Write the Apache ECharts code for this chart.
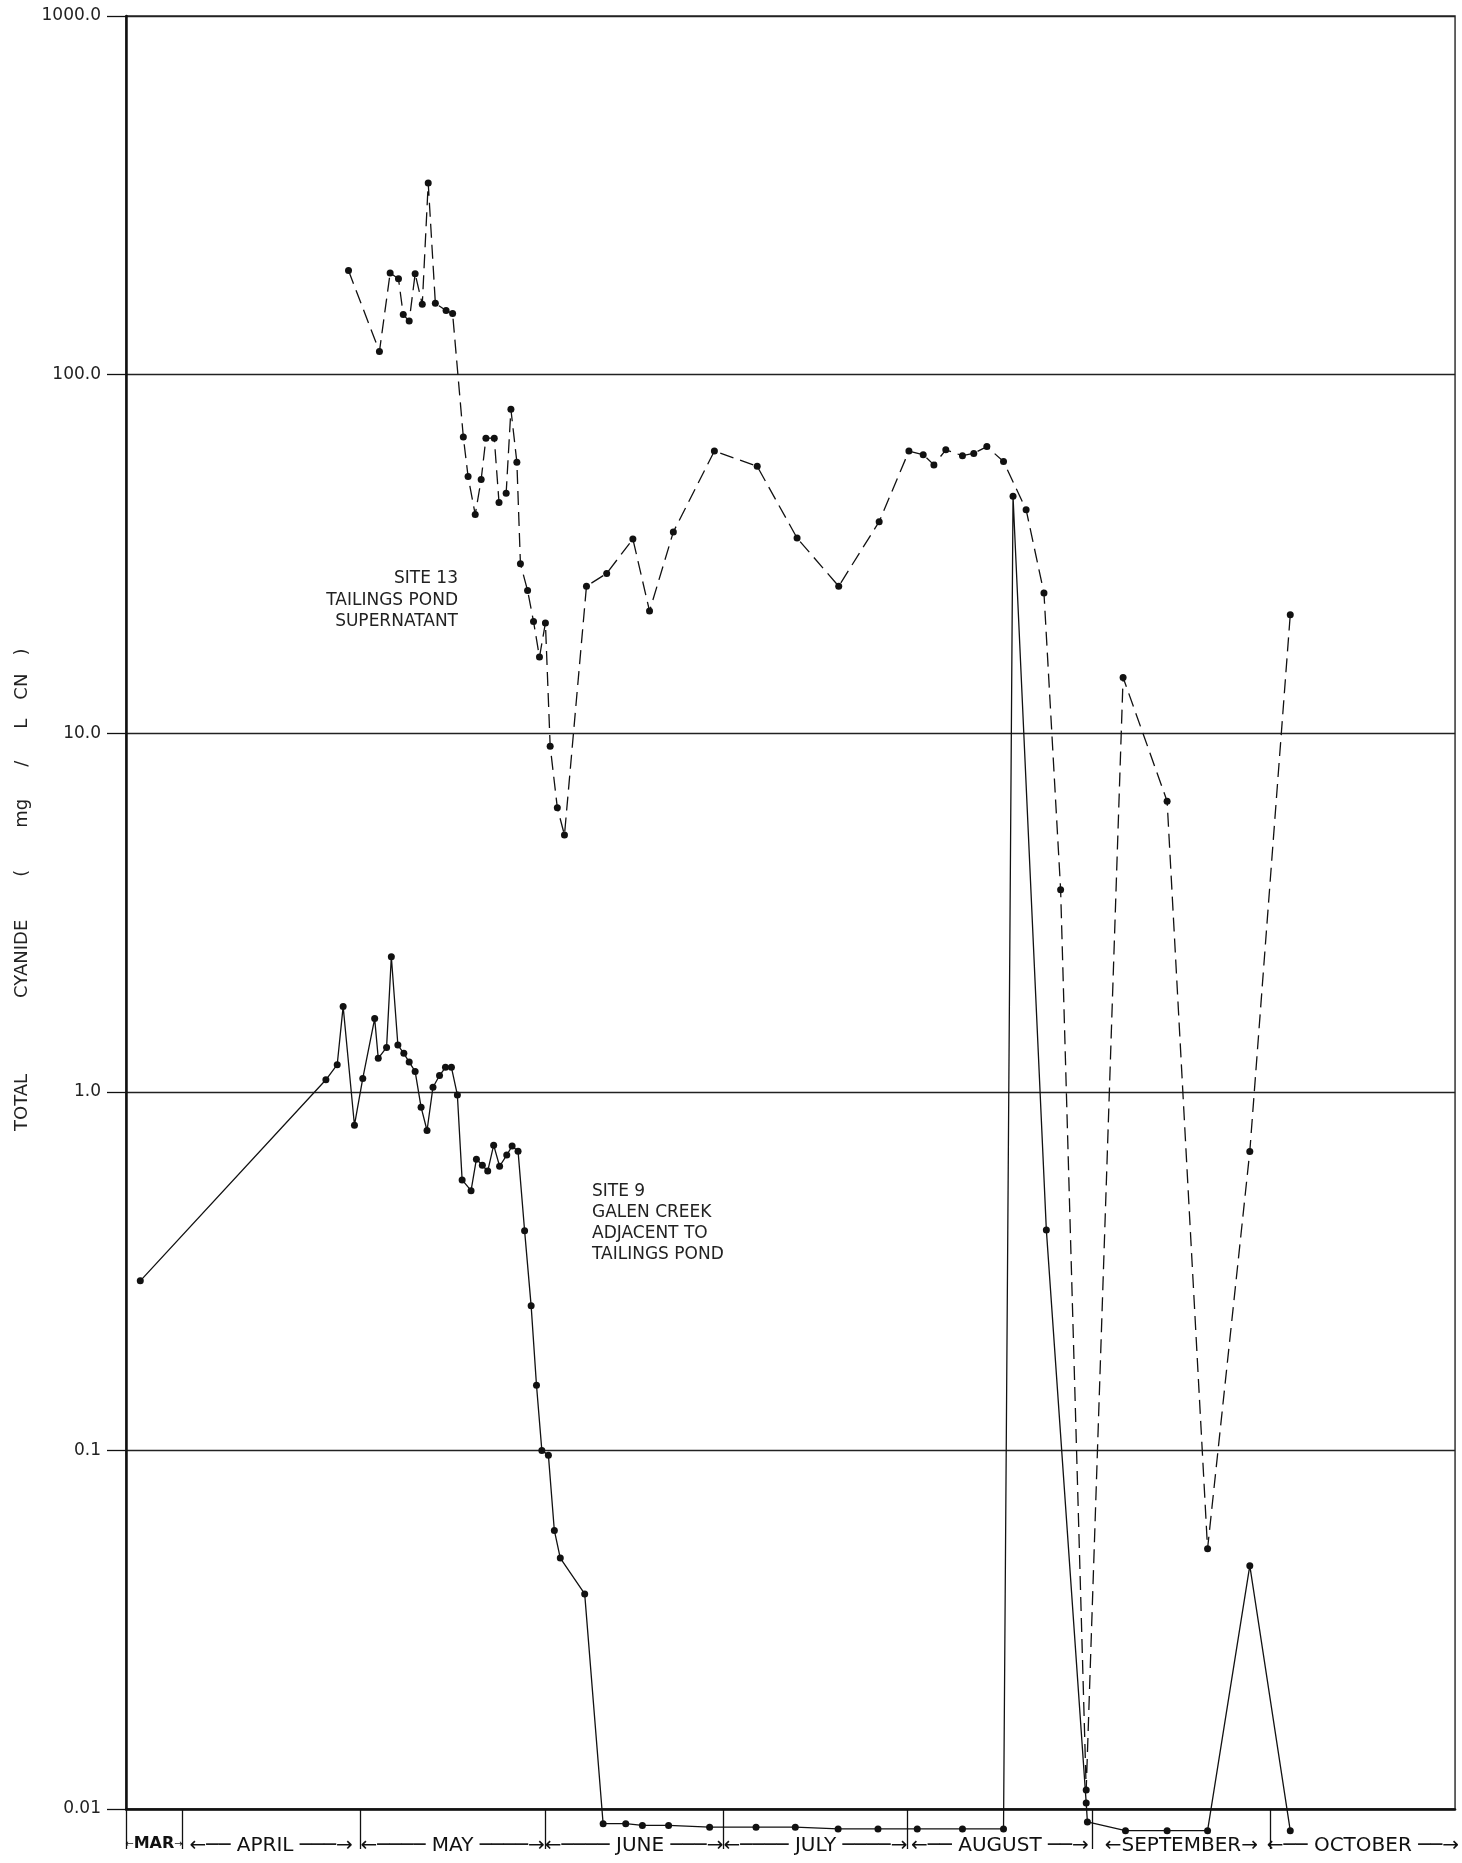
<!DOCTYPE html>
<html><head><meta charset="utf-8">
<script src="https://cdn.jsdelivr.net/npm/echarts@6.0.0/dist/echarts.min.js"></script>
<style>html,body{margin:0;padding:0;background:#fff}#c{width:1462px;height:1863px}</style>
</head><body><div id="c"></div>
<script>
// x values: days counted from 1 March (1 Apr = 31, 1 May = 61, ... 1 Nov = 245)
const site13Days = [59.0,64.2,66.0,67.4,68.2,69.2,70.2,71.4,72.4,73.6,75.4,76.5,78.3,79.1,80.3,81.3,82.1,83.5,84.3,85.5,86.3,87.3,87.9,89.1,90.1,91.1,92.1,92.9,94.1,95.3,99.0,102.4,106.8,109.6,113.6,120.5,127.7,134.4,141.4,148.2,153.2,155.6,157.4,159.4,162.2,164.1,166.3,169.1,172.9,175.9,178.7,183.0,189.2,196.6,203.4,210.5,217.3];
const site13Vals = [195,116,192,185,147,141,191,157,342,158,151,148,67,52,40.7,51,66.5,66.5,44,46.7,80,57,29.7,25,20.5,16.3,20.3,9.2,6.2,5.2,25.7,27.9,34.8,21.9,36.4,61.2,55.5,35,25.7,38.9,61.2,59.8,56,61.7,59.4,60.3,63,57.2,42,24.6,3.66,0.0113,14.3,6.46,0.0532,0.682,21.4];
const site9Days = [24.0,55.2,57.1,58.1,60.0,61.4,63.4,64.0,65.4,66.2,67.3,68.3,69.2,70.2,71.2,72.2,73.2,74.3,75.3,76.3,77.3,78.1,79.6,80.5,81.5,82.4,83.4,84.4,85.6,86.5,87.5,88.6,89.7,90.6,91.5,92.6,93.6,94.6,98.7,101.8,105.6,108.4,112.8,119.7,127.5,134.1,141.3,148.0,154.6,162.2,169.1,170.7,176.3,183.0,183.2,189.6,196.6,203.4,210.5,217.3];
const site9Vals = [0.297,1.08,1.19,1.73,0.807,1.09,1.6,1.24,1.33,2.38,1.35,1.28,1.21,1.14,0.906,0.78,1.03,1.11,1.17,1.17,0.98,0.568,0.53,0.649,0.624,0.601,0.71,0.62,0.666,0.706,0.683,0.41,0.253,0.152,0.1,0.097,0.0598,0.0501,0.0398,0.0091,0.0091,0.0090,0.0090,0.0089,0.0089,0.0089,0.0088,0.0088,0.0088,0.0088,0.0088,45.8,0.412,0.0104,0.0092,0.0087,0.0087,0.0087,0.0477,0.0087];
const yTickLabels = ['0.01','0.1','1.0','10.0','100.0','1000.0'];
const monthBounds = [21.6, 31, 61, 92, 122, 153, 184, 214, 245];
const monthLabels = ['{s|←}{m|MAR}{s|→}', '←── APRIL ───→', '←──── MAY ────→', '←──── JUNE ───→', '←──── JULY ────→', '←── AUGUST ──→', '←SEPTEMBER→', '←── OCTOBER ──→'];
const site13Label = 'SITE 13\nTAILINGS POND\nSUPERNATANT';
const site9Label = 'SITE 9\nGALEN CREEK\nADJACENT TO\nTAILINGS POND';
const yTitle = 'TOTAL{g1| }CYANIDE{g2| }({g3| }mg{g4| }/{g5| }L{g6| }CN{g7| })';

const monthMids = monthBounds.slice(0, -1).map((b, i) => (b + monthBounds[i + 1]) / 2);
const FONT = "'DejaVu Sans', sans-serif";
const INK = '#111';

const chart = echarts.init(document.getElementById('c'), null, {renderer: 'canvas'});
chart.setOption({
  animation: false,
  backgroundColor: '#fff',
  grid: {left: 126, right: 2, top: 16, bottom: 54, show: true, borderColor: '#333', borderWidth: 1.5, backgroundColor: 'transparent'},
  xAxis: {
    type: 'value', min: monthBounds[0], max: monthBounds[monthBounds.length - 1],
    axisLine: {onZero: false, lineStyle: {color: INK, width: 2.5}},
    splitLine: {show: false},
    axisTick: {show: true, customValues: monthBounds.slice(0, -1), length: 40, lineStyle: {color: INK, width: 1.3}},
    axisLabel: {
      customValues: monthMids, margin: 27, color: INK, fontFamily: FONT, fontSize: 20,
      hideOverlap: false, showMinLabel: true, showMaxLabel: true,
      formatter: v => { const i = monthMids.findIndex(m => Math.abs(m - v) < 0.01); return i >= 0 ? monthLabels[i] : ''; },
      rich: {s: {fontSize: 10, fontFamily: FONT, color: INK}, m: {fontSize: 16, fontWeight: 'bold', fontFamily: FONT, color: INK}}
    }
  },
  yAxis: {
    type: 'log', logBase: 10, min: 0.01, max: 1000,
    axisLine: {show: true, lineStyle: {color: INK, width: 2.5}},
    axisTick: {show: true, length: 19, lineStyle: {color: INK, width: 1.3}},
    minorTick: {show: false},
    axisLabel: {margin: 25, fontSize: 17, color: '#222', fontFamily: FONT,
      formatter: v => yTickLabels[Math.round(Math.log10(v)) + 2]},
    splitLine: {show: true, lineStyle: {color: '#222', width: 1.3}}
  },
  series: [
    {
      name: 'Site 13', type: 'line', clip: false,
      data: site13Days.map((d, i) => [d, site13Vals[i]]),
      symbol: 'circle', symbolSize: 7, showSymbol: true,
      itemStyle: {color: INK},
      lineStyle: {color: INK, width: 1.3, type: [14, 7]},
      emphasis: {disabled: true}
    },
    {
      name: 'Site 9', type: 'line', clip: false,
      data: site9Days.map((d, i) => [d, site9Vals[i]]),
      symbol: 'circle', symbolSize: 7, showSymbol: true,
      itemStyle: {color: INK},
      lineStyle: {color: INK, width: 1.3, type: 'solid'},
      emphasis: {disabled: true}
    }
  ],
  graphic: [
    {type: 'text', x: 458, y: 568, style: {text: site13Label, align: 'right', textAlign: 'right', verticalAlign: 'top', textVerticalAlign: 'top', fontSize: 17, fontFamily: FONT, lineHeight: 21.5, fill: '#222'}},
    {type: 'text', x: 592, y: 1181, style: {text: site9Label, align: 'left', textAlign: 'left', verticalAlign: 'top', textVerticalAlign: 'top', fontSize: 17, fontFamily: FONT, lineHeight: 21, fill: '#222'}},
    {type: 'text', x: 22, y: 1131, rotation: Math.PI / 2,
      style: {text: yTitle, align: 'left', textAlign: 'left', verticalAlign: 'middle', textVerticalAlign: 'middle', fontSize: 18, fontFamily: FONT, fill: '#222',
        rich: {g1: {width: 76}, g2: {width: 43}, g3: {width: 42}, g4: {width: 32}, g5: {width: 32}, g6: {width: 19}, g7: {width: 18}}}}
  ]
});
</script></body></html>
